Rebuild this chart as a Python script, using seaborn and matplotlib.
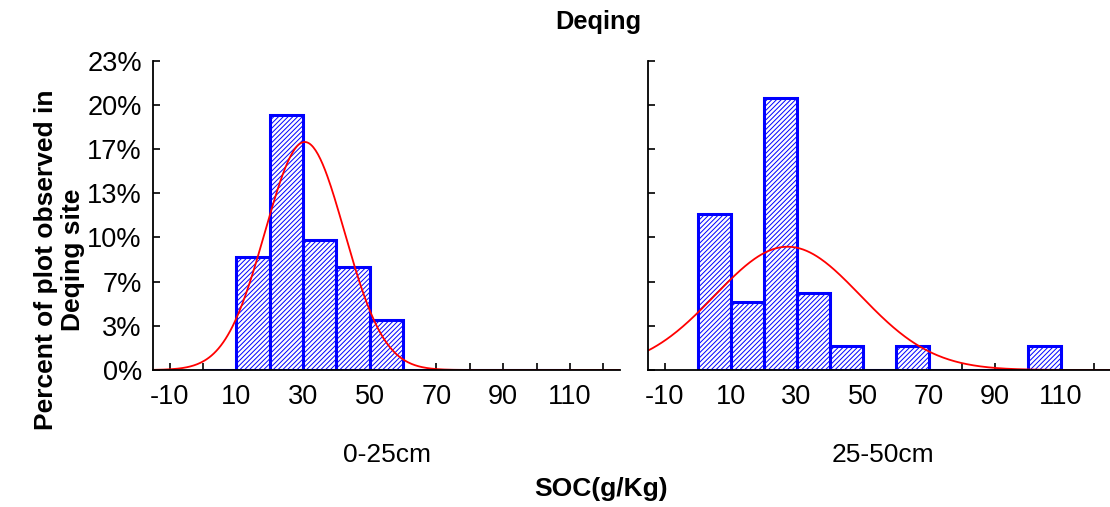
import numpy as np
import pandas as pd
import matplotlib
matplotlib.use("Agg")
import matplotlib.pyplot as plt
import matplotlib.ticker as mticker
import seaborn as sns

# histogram bins (SOC, g/Kg) and share of plots (%) per bin
bin_edges = [0, 10, 20, 30, 40, 50, 60, 70, 80, 90, 100, 110]
pct_0_25 = [0.0, 8.5, 19.2, 9.8, 7.8, 3.8, 0.0, 0.0, 0.0, 0.0, 0.0]
pct_25_50 = [11.8, 5.1, 20.5, 5.8, 1.8, 0.0, 1.8, 0.0, 0.0, 0.0, 1.8]

# fitted normal curves: mean, sd, peak height (%)
fit_0_25 = (30.5, 11.9, 17.2)
fit_25_50 = (27.3, 22.0, 9.3)

panel_labels = ["0-25cm", "25-50cm"]
x_major = [-10, 10, 30, 50, 70, 90, 110]
x_minor = [0, 20, 40, 60, 80, 100, 120]
y_ticks = [0, 10 / 3, 20 / 3, 10, 40 / 3, 50 / 3, 20, 70 / 3]

sns.set_style("ticks")
plt.rcParams["font.family"] = ["Liberation Sans", "DejaVu Sans"]
plt.rcParams["hatch.linewidth"] = 0.7
plt.rcParams["axes.unicode_minus"] = False
plt.rcParams["text.color"] = "black"
plt.rcParams["xtick.color"] = "black"
plt.rcParams["ytick.color"] = "black"

fig = plt.figure(figsize=(11.1, 5.07), dpi=100)
ax_l = fig.add_axes([0.1378, 0.2702, 0.4207, 0.6101])
ax_r = fig.add_axes([0.5838, 0.2702, 0.4162, 0.6101])

centers = [(a + b) / 2 for a, b in zip(bin_edges[:-1], bin_edges[1:])]


def draw_panel(ax, pct, fit, show_ylabels):
    df = pd.DataFrame({"soc": centers, "pct": pct})
    sns.histplot(data=df, x="soc", weights="pct", bins=bin_edges, ax=ax,
                 facecolor="white", edgecolor="#0000ff", linewidth=2.2,
                 hatch="///////", alpha=1)
    mu, sd, peak = fit
    xs = np.linspace(-15, 125, 400)
    curve = pd.DataFrame({"x": xs, "y": peak * np.exp(-0.5 * ((xs - mu) / sd) ** 2)})
    sns.lineplot(data=curve, x="x", y="y", ax=ax, color="red", linewidth=1.3)

    ax.set_xlim(-15, 125)
    ax.set_ylim(0, 70 / 3)
    ax.set_xlabel("")
    ax.set_ylabel("")
    ax.set_xticks(x_major)
    ax.set_xticks(x_minor, minor=True)
    ax.set_yticks(y_ticks)
    ax.yaxis.set_major_formatter(mticker.FuncFormatter(lambda v, p: f"{v:.0f}%"))
    ax.tick_params(axis="both", which="both", direction="in", length=5,
                   width=1.2, color="black", labelcolor="black")
    ax.tick_params(axis="x", which="major", labelsize=19.5, pad=10)
    ax.tick_params(axis="y", labelsize=19.5, pad=8, labelleft=show_ylabels)
    sns.despine(ax=ax)
    for s in ["left", "bottom"]:
        ax.spines[s].set_color("black")
        ax.spines[s].set_linewidth(1.3)


draw_panel(ax_l, pct_0_25, fit_0_25, True)
draw_panel(ax_r, pct_25_50, fit_25_50, False)

fig.text(0.539, 0.9428, "Deqing", ha="center", va="baseline",
         fontsize=18.3, fontweight="bold")
fig.text(0.349, 0.0894, panel_labels[0], ha="center", va="baseline", fontsize=19)
fig.text(0.795, 0.0894, panel_labels[1], ha="center", va="baseline", fontsize=19)
fig.text(0.5413, 0.0217, "SOC(g/Kg)", ha="center", va="baseline",
         fontsize=19, fontweight="bold")
fig.text(0.0536, 0.487, "Percent of plot observed in\nDeqing site", ha="center",
         va="center", rotation=90, fontsize=19, fontweight="bold",
         linespacing=1.15)

fig.savefig("out.png", dpi=100)
